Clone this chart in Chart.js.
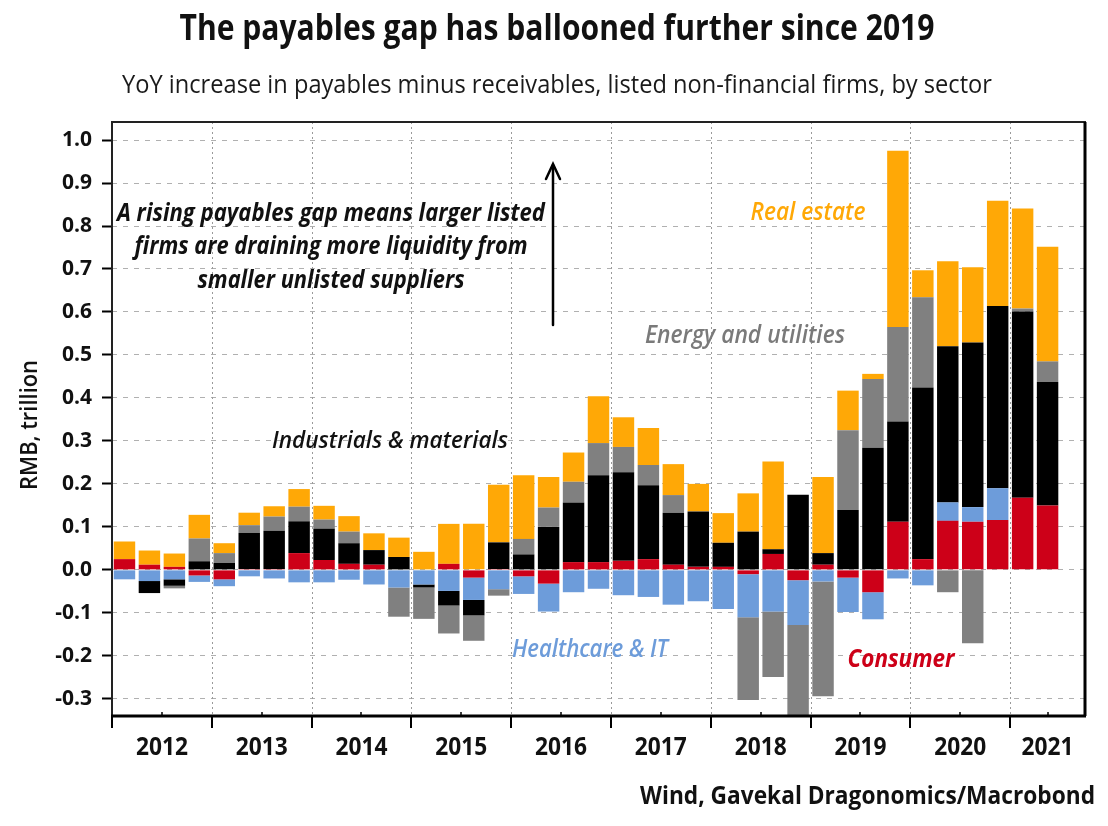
<!DOCTYPE html>
<html><head><meta charset="utf-8">
<script src="https://cdn.jsdelivr.net/npm/chart.js@4"></script>
<style>html,body{margin:0;padding:0;background:#fff}#wrap{width:1108px;height:826px;position:relative}</style>
</head><body><div id="wrap"><canvas id="c" width="1108" height="826"></canvas></div>
<script>
// ---- data (RMB trillion, YoY change), quarterly 2012Q1 .. 2021Q2 ----
const years = ['2012','2013','2014','2015','2016','2017','2018','2019','2020','2021'];
const quartersPerYear = ['Q1','Q2','Q3','Q4'];
const lastYearQuarters = 3; // axis runs to 2021Q3 (empty slot)

const consumer = [0.025,0.012,0.007,-0.013, -0.022,0.002,0.002,0.039, 0.023,0.014,0.012,0.000,
  0.000,0.014,-0.018,0.002, -0.015,-0.032,0.018,0.018, 0.021,0.025,0.012,0.007,
  0.007,-0.010,0.037,-0.024, 0.012,-0.018,-0.052,0.112, 0.025,0.114,0.112,0.116, 0.168,0.150];
const healthcareIT = [-0.022,-0.026,-0.022,-0.015, -0.016,-0.015,-0.020,-0.029, -0.029,-0.023,-0.034,-0.041,
  -0.034,-0.049,-0.052,-0.045, -0.041,-0.065,-0.052,-0.044, -0.059,-0.063,-0.081,-0.073,
  -0.091,-0.100,-0.097,-0.104, -0.027,-0.080,-0.063,-0.020, -0.036,0.043,0.034,0.074, 0.000,0.000];
const industrials = [0.000,-0.028,-0.015,0.020, 0.016,0.084,0.089,0.074, 0.073,0.048,0.034,0.030,
  -0.007,-0.034,-0.036,0.062, 0.036,0.100,0.139,0.202, 0.206,0.172,0.121,0.129,
  0.056,0.089,0.011,0.175, 0.027,0.139,0.284,0.233, 0.399,0.363,0.383,0.424, 0.433,0.287];
const energyUtilities = [0.000,0.000,-0.006,0.053, 0.023,0.018,0.033,0.034, 0.021,0.027,0.000,-0.068,
  -0.073,-0.065,-0.059,-0.015, 0.036,0.045,0.048,0.075, 0.059,0.047,0.041,0.000,
  0.000,-0.193,-0.152,-0.245, -0.267,0.186,0.160,0.220, 0.210,-0.052,-0.171,0.000, 0.007,0.048];
const realEstate = [0.041,0.033,0.031,0.055, 0.023,0.029,0.024,0.041, 0.032,0.036,0.039,0.045,
  0.042,0.093,0.107,0.134, 0.148,0.071,0.068,0.109, 0.069,0.086,0.072,0.064,
  0.069,0.089,0.204,0.000, 0.177,0.092,0.012,0.410, 0.063,0.198,0.175,0.245, 0.233,0.267];
const yTicks = [-0.3,-0.2,-0.1,0.0,0.1,0.2,0.3,0.4,0.5,0.6,0.7,0.8,0.9,1.0];

// category labels built from years
const categories = [];
years.forEach((y,i)=>{
  const n = i === years.length-1 ? lastYearQuarters : 4;
  for (let q=0;q<n;q++) categories.push(y+' '+quartersPerYear[q]);
});

const COL = {orange:'#FFA806', gray:'#808080', black:'#000000', blue:'#6D9CDA', red:'#CD0018'};
const FONT = "'Open Sans','Noto Sans',sans-serif";

function drawFit(ctx, text, x, y, font, color, w, align){
  ctx.save();
  ctx.font = font; ctx.fillStyle = color; ctx.textBaseline = 'middle'; ctx.textAlign = 'left';
  const m = ctx.measureText(text).width;
  const sx = w / m;
  const left = align === 'left' ? x : align === 'right' ? x - w : x - w/2;
  ctx.translate(left, y); ctx.scale(sx, 1);
  ctx.fillText(text, 0, 0);
  ctx.restore();
}

const decor = {
  id: 'decor',
  beforeDraw(chart){
    const ctx = chart.ctx;
    ctx.save(); ctx.fillStyle = '#fff'; ctx.fillRect(0,0,chart.width,chart.height); ctx.restore();
  },
  beforeDatasetsDraw(chart){
    const ctx = chart.ctx, xs = chart.scales.x, a = chart.chartArea;
    const half = (xs.getPixelForValue(1) - xs.getPixelForValue(0)) / 2;
    ctx.save();
    ctx.strokeStyle = '#9a9a9a'; ctx.lineWidth = 1; ctx.setLineDash([2,3]);
    for (let i = 4; i < categories.length; i += 4){
      const x = Math.round(xs.getPixelForValue(i) - half) + 0.5;
      ctx.beginPath(); ctx.moveTo(x, a.top); ctx.lineTo(x, a.bottom); ctx.stroke();
    }
    ctx.restore();
  },
  afterDraw(chart){
    const ctx = chart.ctx, xs = chart.scales.x, a = chart.chartArea;
    const half = (xs.getPixelForValue(1) - xs.getPixelForValue(0)) / 2;
    // frame
    ctx.save();
    ctx.strokeStyle = '#222'; ctx.lineWidth = 2;
    ctx.strokeRect(a.left, a.top, a.right - a.left, a.bottom - a.top);
    ctx.lineWidth = 3; ctx.strokeStyle = '#000';
    ctx.beginPath(); ctx.moveTo(a.left-1, a.bottom); ctx.lineTo(a.right+1, a.bottom); ctx.stroke();
    ctx.beginPath(); ctx.moveTo(a.right, a.top); ctx.lineTo(a.right, a.bottom); ctx.stroke();
    ctx.restore();
    // x ticks + year labels
    ctx.save();
    ctx.strokeStyle = '#000';
    const bounds = [];
    for (let i = 0; i < categories.length; i += 4) bounds.push(xs.getPixelForValue(i) - half);
    bounds.push(a.right);
    for (let k = 0; k < bounds.length - 1; k++){
      const x = Math.round(bounds[k]);
      ctx.lineWidth = 2;
      ctx.beginPath(); ctx.moveTo(x, a.bottom); ctx.lineTo(x, a.bottom + 12); ctx.stroke();
      const mid = (bounds[k] + bounds[k+1]) / 2;
      ctx.lineWidth = 1.5;
      ctx.beginPath(); ctx.moveTo(Math.round(mid), a.bottom); ctx.lineTo(Math.round(mid), a.bottom - 4); ctx.stroke();
      drawFit(ctx, years[k], mid, 748, "bold 25px " + FONT, '#111', 52, 'center');
    }
    ctx.restore();
    // titles
    drawFit(ctx, 'The payables gap has ballooned further since 2019', 557, 30, "bold 35px " + FONT, '#111', 755, 'center');
    drawFit(ctx, 'YoY increase in payables minus receivables, listed non-financial firms, by sector', 557, 86, "25px " + FONT, '#1a1a1a', 870, 'center');
    drawFit(ctx, 'Wind, Gavekal Dragonomics/Macrobond', 1095, 797, "bold 25px " + FONT, '#111', 455, 'right');
    // y title
    ctx.save(); ctx.translate(30, 425); ctx.rotate(-Math.PI/2);
    drawFit(ctx, 'RMB, trillion', 0, 0, "600 23px " + FONT, '#111', 130, 'center');
    ctx.restore();
    // annotation
    const af = "italic bold 25px " + FONT;
    drawFit(ctx, 'A rising payables gap means larger listed', 331, 214, af, '#111', 428, 'center');
    drawFit(ctx, 'firms are draining more liquidity from', 331, 247, af, '#111', 393, 'center');
    drawFit(ctx, 'smaller unlisted suppliers', 331, 281, af, '#111', 267, 'center');
    // arrow
    ctx.save(); ctx.strokeStyle = '#000'; ctx.lineWidth = 2.5; ctx.lineCap = 'round';
    ctx.beginPath(); ctx.moveTo(553, 325); ctx.lineTo(553, 165); ctx.stroke();
    ctx.beginPath(); ctx.moveTo(546, 179); ctx.lineTo(553, 164); ctx.lineTo(560, 179); ctx.stroke();
    ctx.restore();
    // sector labels
    drawFit(ctx, 'Real estate', 808, 213, "italic 600 25px " + FONT, COL.orange, 115, 'center');
    drawFit(ctx, 'Energy and utilities', 745, 336, "italic 600 25px " + FONT, '#7a7a7a', 200, 'center');
    drawFit(ctx, 'Industrials & materials', 390, 441, "italic 600 24px " + FONT, '#111', 236, 'center');
    drawFit(ctx, 'Healthcare & IT', 590, 650, "italic 600 25px " + FONT, COL.blue, 156, 'center');
    drawFit(ctx, 'Consumer', 901, 660, "italic bold 25px " + FONT, COL.red, 107, 'center');
  }
};

new Chart(document.getElementById('c'), {
  type: 'bar',
  data: {
    labels: categories,
    datasets: [
      {label:'Consumer', data: consumer, backgroundColor: COL.red},
      {label:'Healthcare & IT', data: healthcareIT, backgroundColor: COL.blue},
      {label:'Industrials & materials', data: industrials, backgroundColor: COL.black},
      {label:'Energy and utilities', data: energyUtilities, backgroundColor: COL.gray},
      {label:'Real estate', data: realEstate, backgroundColor: COL.orange}
    ]
  },
  options: {
    responsive: false, animation: false, devicePixelRatio: 1,
    layout: {padding: {left: 0, top: 122, right: 23, bottom: 110}},
    datasets: {bar: {categoryPercentage: 1.0, barPercentage: 0.86, borderWidth: 0}},
    plugins: {legend: {display: false}, title: {display: false}, tooltip: {enabled: false}},
    scales: {
      x: {
        stacked: true,
        ticks: {display: false},
        grid: {display: false, drawTicks: false},
        border: {display: false},
        afterFit: s => { s.height = 0; }
      },
      y: {
        stacked: true,
        min: -0.34, max: 1.042,
        afterBuildTicks: s => { s.ticks = yTicks.map(v => ({value: v})); },
        ticks: {
          callback: v => Number(v).toFixed(1),
          font: {family: FONT, size: 21, weight: 'bold'},
          color: '#111', padding: 10
        },
        grid: {color: '#b0b0b0', lineWidth: 1, tickColor: '#000', tickLength: 10, tickWidth: 2, borderDash: [5,6]},
        border: {display: false, dash: [5,6]},
        afterFit: s => { s.width = 112; }
      }
    }
  },
  plugins: [decor]
});
</script></body></html>
